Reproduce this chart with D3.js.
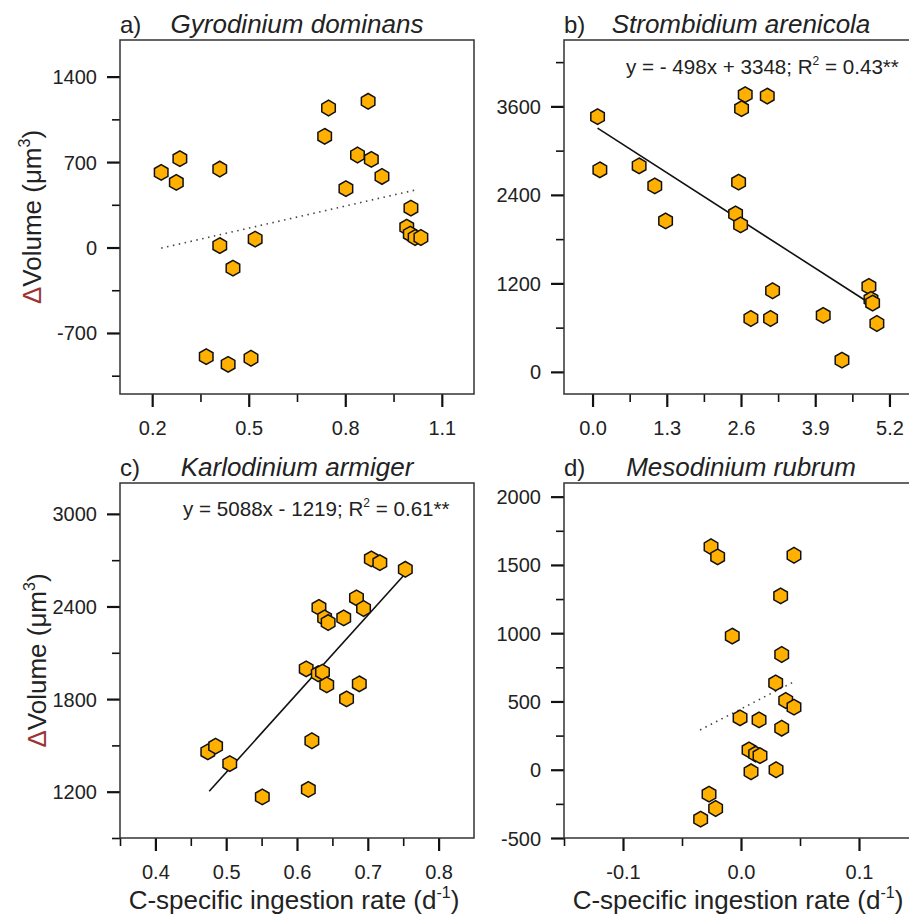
<!DOCTYPE html>
<html>
<head>
<meta charset="utf-8">
<script src="https://cdn.jsdelivr.net/npm/d3@7"></script>
<style>
  body { margin: 0; background: #fff; }
  text { font-family: "Liberation Sans", Arial, sans-serif; fill: #222; }
</style>
</head>
<body>
<div id="chart"></div>
<script>
'use strict'

// ---------- data ----------
// a) Gyrodinium dominans
const gyroX = [0.228, 0.275, 0.286, 0.410, 0.410, 0.451, 0.520, 0.368, 0.436, 0.507, 0.736,
               0.748, 0.871, 0.838, 0.881, 0.914, 0.802, 1.004, 0.991, 1.002, 1.017, 1.035]
const gyroY = [615, 533, 728, 643, 16, -169, 69, -894, -957, -907, 911,
               1143, 1198, 758, 722, 582, 482, 323, 167, 110, 82, 82]
const gyroFit = [[0.228, -5], [1.021, 473]]

// b) Strombidium arenicola
const stromX = [0.088, 0.128, 0.816, 1.09, 1.279, 2.674, 2.61, 3.06, 2.558, 2.505,
                2.593, 3.153, 2.773, 3.118, 4.04, 4.368, 4.84, 4.876, 4.905, 4.98]
const stromY = [3460, 2740, 2794, 2522, 2047, 3759, 3569, 3740, 2572, 2142,
                1993, 1100, 724, 724, 765, 159, 1159, 982, 933, 656]
const stromFitX = [0.088, 4.8]   // y = -498x + 3348

// c) Karlodinium armiger
const karloX = [0.474, 0.485, 0.505, 0.551, 0.616, 0.621, 0.613, 0.630, 0.636, 0.642, 0.670,
                0.688, 0.631, 0.639, 0.644, 0.666, 0.684, 0.694, 0.705, 0.717, 0.753]
const karloY = [1458, 1495, 1382, 1166, 1215, 1530, 1996, 1964, 1975, 1892, 1801,
                1899, 2394, 2326, 2296, 2326, 2456, 2387, 2708, 2684, 2641]
const karloFitX = [0.476, 0.75]  // y = 5088x - 1219

// d) Mesodinium rubrum
const mesoX = [-0.0254, -0.0198, 0.0449, 0.0336, -0.0074, 0.0345, 0.0294, 0.0379, 0.0449, -0.0008,
               0.0153, 0.0345, 0.0068, 0.0124, 0.0161, 0.0085, 0.0297, -0.0271, -0.0215, -0.0342]
const mesoY = [1633, 1559, 1571, 1273, 979, 844, 636, 507, 458, 380,
               365, 304, 145, 115, 103, -15, 0, -179, -284, -362]
const mesoFit = [[-0.0347, 291], [0.0452, 646]]

// ticks
const gyroXTicks = [0.2, 0.5, 0.8, 1.1], gyroXLabels = ['0.2', '0.5', '0.8', '1.1']
const gyroYTicks = [-700, 0, 700, 1400], gyroYLabels = ['-700', '0', '700', '1400']
const stromXTicks = [0, 1.3, 2.6, 3.9, 5.2], stromXLabels = ['0.0', '1.3', '2.6', '3.9', '5.2']
const stromYTicks = [0, 1200, 2400, 3600], stromYLabels = ['0', '1200', '2400', '3600']
const karloXTicks = [0.4, 0.5, 0.6, 0.7, 0.8], karloXLabels = ['0.4', '0.5', '0.6', '0.7', '0.8']
const karloYTicks = [1200, 1800, 2400, 3000], karloYLabels = ['1200', '1800', '2400', '3000']
const mesoXTicks = [-0.1, 0, 0.1], mesoXLabels = ['-0.1', '0.0', '0.1']
const mesoYTicks = [-500, 0, 500, 1000, 1500, 2000], mesoYLabels = ['-500', '0', '500', '1000', '1500', '2000']

////////////////////////////////////
//////////// svg setup /////////////
////////////////////////////////////
const svgWidth = 909
const svgHeight = 917

const svg = d3.select('#chart')
    .append('svg')
    .attr('width', svgWidth)
    .attr('height', svgHeight)
    .style('display', 'block')

const hexPath = (r) => {
    let p = d3.path()
    for (let i = 0; i < 6; i++) {
        let a = (-90 + 60 * i) * Math.PI / 180
        let px = r * Math.cos(a), py = r * Math.sin(a)
        i === 0 ? p.moveTo(px, py) : p.lineTo(px, py)
    }
    p.closePath()
    return p.toString()
}

function panel(o) {
    const g = svg.append('g')
    const x = d3.scaleLinear().domain(o.xDomain).range([o.left, o.right])
    const y = d3.scaleLinear().domain(o.yDomain).range([o.bottom, o.top])

    // minor ticks
    g.append('g')
        .attr('transform', `translate(0,${o.bottom})`)
        .call(d3.axisBottom(x).tickValues(o.xMinor).tickSize(8).tickFormat(''))
    g.append('g')
        .attr('transform', `translate(${o.left},0)`)
        .call(d3.axisLeft(y).tickValues(o.yMinor).tickSize(8).tickFormat(''))

    // major ticks
    g.append('g')
        .attr('class', 'x-axis')
        .attr('transform', `translate(0,${o.bottom})`)
        .call(d3.axisBottom(x).tickValues(o.xTicks).tickSize(13)
            .tickFormat((d, i) => o.xLabels[i]))
    g.append('g')
        .attr('class', 'y-axis')
        .attr('transform', `translate(${o.left},0)`)
        .call(d3.axisLeft(y).tickValues(o.yTicks).tickSize(13)
            .tickFormat((d, i) => o.yLabels[i]))

    g.selectAll('.domain').remove()
    g.selectAll('.tick line').attr('stroke', '#111').attr('stroke-width', 1.6)
    g.selectAll('.x-axis .tick line, .y-axis .tick line').attr('stroke-width', 2.2)
    g.selectAll('.tick text')
        .attr('font-size', '20px')
        .attr('font-family', '"Liberation Sans", Arial, sans-serif')
        .attr('fill', '#222')
    g.select('.x-axis').selectAll('text').attr('y', 27).attr('dy', '0.71em')
    g.select('.y-axis').selectAll('text').attr('x', -23).attr('dy', '0.35em')

    // frame
    g.append('rect')
        .attr('x', o.left).attr('y', o.top)
        .attr('width', o.right - o.left).attr('height', o.bottom - o.top)
        .attr('fill', 'none').attr('stroke', '#333').attr('stroke-width', 1.5)

    // trend line
    g.append('line')
        .attr('x1', x(o.fit[0][0])).attr('y1', y(o.fit[0][1]))
        .attr('x2', x(o.fit[1][0])).attr('y2', y(o.fit[1][1]))
        .attr('stroke', o.dotted ? '#444' : '#111')
        .attr('stroke-width', 1.6)
        .attr('stroke-dasharray', o.dotted ? '1.5,4.5' : null)

    // points
    g.selectAll('.pt')
        .data(o.xs.map((d, i) => [d, o.ys[i]]))
        .join('path')
        .attr('class', 'pt')
        .attr('d', hexPath(7.8))
        .attr('transform', d => `translate(${x(d[0])},${y(d[1])})`)
        .attr('fill', '#FFB000')
        .attr('stroke', '#111')
        .attr('stroke-width', 1.5)

    // titles
    const mid = (o.left + o.right) / 2
    g.append('text')
        .attr('x', o.left).attr('y', o.titleY)
        .attr('font-size', '24px')
        .text(o.letter)
    g.append('text')
        .attr('x', mid).attr('y', o.titleY)
        .attr('text-anchor', 'middle')
        .attr('font-size', '26px')
        .attr('font-style', 'italic')
        .text(o.name)

    if (o.eq) {
        const t = g.append('text')
            .attr('x', o.eq.x).attr('y', o.eq.y)
            .attr('font-size', '20.6px')
        t.append('tspan').text(o.eq.a)
        t.append('tspan').attr('font-size', '12px').attr('dy', -9).text('2')
        t.append('tspan').attr('dy', 9).text(o.eq.b)
    }

    if (o.yTitleX) {
        const t = g.append('text')
            .attr('transform', `translate(${o.yTitleX},${(o.top + o.bottom) / 2}) rotate(-90)`)
            .attr('text-anchor', 'middle')
            .attr('font-size', '26px')
        t.append('tspan').attr('fill', '#9a3535').text('\u0394')
        t.append('tspan').text('Volume (\u03bcm')
        t.append('tspan').attr('font-size', '16px').attr('dy', -11).text('3')
        t.append('tspan').attr('dy', 11).text(')')
    }

    if (o.xTitle) {
        const t = g.append('text')
            .attr('x', mid - 3).attr('y', 909)
            .attr('text-anchor', 'middle')
            .attr('font-size', '26px')
        t.append('tspan').text('C-specific ingestion rate (d')
        t.append('tspan').attr('font-size', '16px').attr('dy', -11).text('-1')
        t.append('tspan').attr('dy', 11).text(')')
    }
}

panel({
    letter: 'a)', name: 'Gyrodinium dominans', titleY: 33,
    left: 120, right: 474, top: 40, bottom: 394,
    xDomain: [0.1, 1.2], yDomain: [-1200, 1700],
    xTicks: gyroXTicks, xLabels: gyroXLabels, xMinor: [0.35, 0.65, 0.95],
    yTicks: gyroYTicks, yLabels: gyroYLabels, yMinor: [-1050, -350, 350, 1050],
    xs: gyroX, ys: gyroY, fit: gyroFit, dotted: true,
    yTitleX: 41
})

panel({
    letter: 'b)', name: 'Strombidium arenicola', titleY: 33,
    left: 564, right: 918, top: 40, bottom: 394,
    xDomain: [-0.5, 5.7], yDomain: [-300, 4500],
    xTicks: stromXTicks, xLabels: stromXLabels, xMinor: [0.65, 1.95, 3.25, 4.55],
    yTicks: stromYTicks, yLabels: stromYLabels, yMinor: [600, 1800, 3000, 4200],
    xs: stromX, ys: stromY,
    fit: stromFitX.map(v => [v, -498 * v + 3348]),
    eq: { x: 626, y: 74, a: 'y = - 498x + 3348; R', b: ' = 0.43**' }
})

panel({
    letter: 'c)', name: 'Karlodinium armiger', titleY: 476,
    left: 120, right: 474, top: 483, bottom: 838,
    xDomain: [0.35, 0.85], yDomain: [900, 3200],
    xTicks: karloXTicks, xLabels: karloXLabels, xMinor: [0.35, 0.45, 0.55, 0.65, 0.75],
    yTicks: karloYTicks, yLabels: karloYLabels, yMinor: [900, 1500, 2100, 2700],
    xs: karloX, ys: karloY,
    fit: karloFitX.map(v => [v, 5088 * v - 1219]),
    eq: { x: 183, y: 516, a: 'y = 5088x - 1219; R', b: ' = 0.61**' },
    yTitleX: 46, xTitle: true
})

panel({
    letter: 'd)', name: 'Mesodinium rubrum', titleY: 476,
    left: 564, right: 918, top: 483, bottom: 838,
    xDomain: [-0.15, 0.15], yDomain: [-500, 2100],
    xTicks: mesoXTicks, xLabels: mesoXLabels, xMinor: [-0.15, -0.05, 0.05],
    yTicks: mesoYTicks, yLabels: mesoYLabels, yMinor: [-250, 250, 750, 1250, 1750],
    xs: mesoX, ys: mesoY, fit: mesoFit, dotted: true,
    xTitle: true
})
</script>
</body>
</html>
